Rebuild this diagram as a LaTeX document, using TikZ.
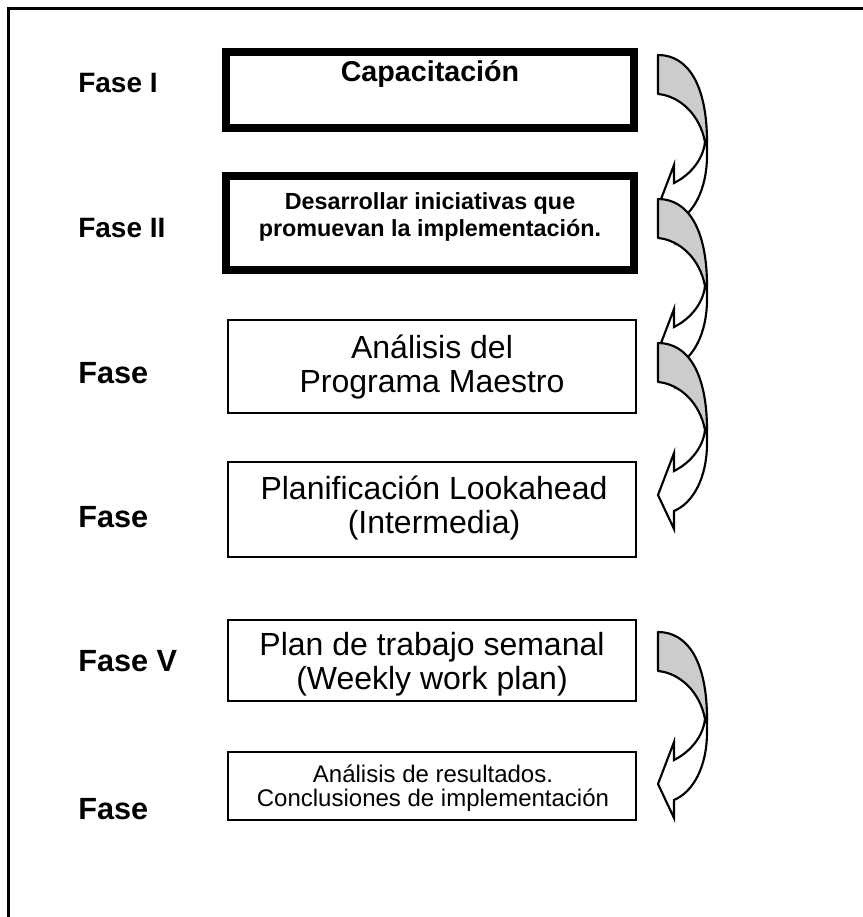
\documentclass[tikz,border=0pt]{standalone}
\usepackage{fontspec}
\setmainfont{Liberation Sans}
\begin{document}
\begin{tikzpicture}[x=0.75pt,y=-0.75pt,
  phase/.style={anchor=base west, inner sep=0pt, font=\bfseries\fontsize{23}{25}\selectfont},
  phasesmall/.style={phase, font=\bfseries\fontsize{21}{23}\selectfont},
  heavybox/.style={draw, line width=6pt, minimum width=306pt, inner sep=0pt},
  plainbox/.style={draw, line width=1.1pt, minimum width=306pt, inner sep=0pt},
  bigtext/.style={align=center, inner sep=0pt, font=\fontsize{24}{25.5}\selectfont},
  boldtext/.style={align=center, inner sep=0pt, font=\bfseries\fontsize{17.5}{20.5}\selectfont},
  smalltext/.style={align=center, inner sep=0pt, font=\fontsize{18}{17.5}\selectfont},
  bend arrow/.pic={
    % shaded back of the ribbon
    \filldraw[fill=black!20, line width=1.6pt, line join=round]
      (0,0) .. controls (30,0) and (49,30) .. (49,87)
      -- (47,87) .. controls (42,60) and (22,41) .. (0,39) -- cycle;
    % front of the ribbon with its head
    \filldraw[fill=white, line width=1.6pt, line join=miter]
      (47,87) -- (49,87) -- (49,100) .. controls (49,135) and (35,160) .. (16,168)
      -- (16,186) -- (0,152) -- (16,110) -- (16,128)
      .. controls (32,120) and (45,105) .. (47,87) -- cycle;
  }]
\useasboundingbox (0,0) rectangle (863,917);
\fill[white] (0,0) rectangle (863,917);

% page frame
\coordinate (fb) at (8.5,917);
\coordinate (fc) at (8.5,8.5);
\coordinate (fr) at (863,8.5);
\draw[line width=2.3pt] (fb) -- (fc) -- (fr);

% phase labels
\node[phasesmall] (f1) at (78,93) {Fase I};
\node[phasesmall] (f2) at (78,237) {Fase II};
\node[phase] (f3) at (78,383) {Fase};
\node[phase] (f4) at (78,527) {Fase};
\node[phase] (f5) at (78,671) {Fase V};
\node[phase] (f6) at (78,819) {Fase};

% boxes
\node[heavybox, minimum height=57pt] (b1) at (430,90) {};
\node[heavybox, minimum height=70.5pt] (b2) at (430,223) {};
\node[plainbox, minimum height=69.75pt] (b3) at (432,366.5) {};
\node[plainbox, minimum height=71.25pt] (b4) at (432,509.5) {};
\node[plainbox, minimum height=60.75pt] (b5) at (432,660.5) {};
\node[plainbox, minimum height=51pt] (b6) at (432,786) {};

% box texts
\node[anchor=base, inner sep=0pt, font=\bfseries\fontsize{21.5}{23}\selectfont] (t1) at (430,82) {Capacitación};
\node[boldtext] (t2) at (430,217) {Desarrollar iniciativas que\\promuevan la implementación.};
\node[bigtext] (t3) at (432,367) {Análisis del\\Programa Maestro};
\node[bigtext] (t4) at (434,508) {Planificación Lookahead\\(Intermedia)};
\node[bigtext] (t5) at (432,664) {Plan de trabajo semanal\\(Weekly work plan)};
\node[smalltext] (t6) at (433,788) {Análisis de resultados.\\Conclusiones de implementación};

% curved arrows between phases
\pic (a1) at (658,55) {bend arrow};
\pic (a2) at (658,199) {bend arrow};
\pic (a3) at (658,343) {bend arrow};
\pic (a4) at (658,632) {bend arrow};
\end{tikzpicture}
\end{document}
